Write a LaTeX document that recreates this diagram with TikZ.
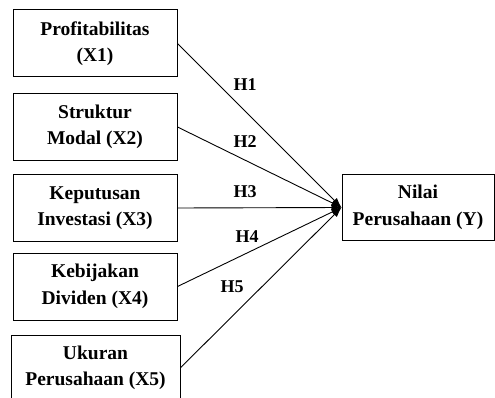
\documentclass[tikz,border=0pt]{standalone}
\usepackage{fontspec}
\setmainfont{Liberation Serif}
\usetikzlibrary{arrows.meta}

\tikzset{
  varbox/.style={draw, line width=1pt, align=center, inner sep=1pt,
    minimum width=164pt, minimum height=67pt,
    font=\fontsize{19.5}{26.5}\selectfont\bfseries},
  hyp/.style={inner sep=0pt, font=\fontsize{18}{20}\selectfont\bfseries},
  link/.style={line width=0.9pt, -{Latex[length=10pt,width=7pt]}}
}

\begin{document}
\begin{tikzpicture}[x=1pt, y=-1pt] % pixel grid, y down
        \useasboundingbox (0,0) rectangle (495,398);
        \clip (0,0) rectangle (495,398);

        % Independent variables
        \node[varbox] (x1) at (95,43.5) {Profitabilitas\\(X1)};
        \node[varbox] (x2) at (95,127) {Struktur\\Modal (X2)};
        \node[varbox] (x3) at (95,208) {Keputusan\\Investasi (X3)};
        \node[varbox] (x4) at (95,286.5) {Kebijakan\\Dividen (X4)};
        \node[varbox, minimum width=169pt, minimum height=64.5pt, anchor=north] (x5) at (95.5,335) {Ukuran\\Perusahaan (X5)};

        % Dependent variable
        \node[varbox, minimum width=152pt, minimum height=65pt] (nilai) at (418,207.5) {Nilai\\Perusahaan (Y)};

        % Hypotheses
        \draw[link] (x1.east) -- (nilai.west);
        \draw[link] (x2.east) -- (nilai.west);
        \draw[link] (x3.east) -- (nilai.west);
        \draw[link] (x4.east) -- (nilai.west);
        \draw[link] (x5.east) -- (nilai.west);

        \node[hyp] (h1) at (245,85) {H1};
        \node[hyp] (h2) at (245,142) {H2};
        \node[hyp] (h3) at (245,192) {H3};
        \node[hyp] (h4) at (247,237) {H4};
        \node[hyp] (h5) at (232,287) {H5};
    \end{tikzpicture}
\end{document}
